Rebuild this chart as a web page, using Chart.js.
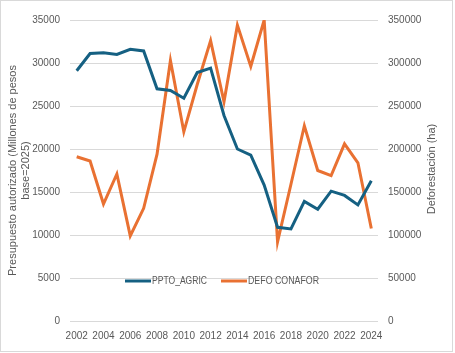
<!DOCTYPE html>
<html>
<head>
<meta charset="utf-8">
<script src="https://cdn.jsdelivr.net/npm/chart.js@4/dist/chart.umd.min.js"></script>
<style>
html,body{margin:0;padding:0;background:#fff;}
canvas{display:block;}
</style>
</head>
<body>
<canvas id="c" width="455" height="353"></canvas>
<script>
const years = ['2002','2003','2004','2005','2006','2007','2008','2009','2010','2011','2012','2013','2014','2015','2016','2017','2018','2019','2020','2021','2022','2023','2024'];
const pptoAgric = [29100,31100,31200,31000,31600,31400,27000,26800,25900,28900,29400,23900,20000,19300,15800,10900,10700,13900,13000,15100,14600,13500,16300];
const defoConafor = [191000,186000,136000,171000,99000,131000,194000,303000,220000,275000,326000,255000,344000,296000,350000,92000,159000,227000,175000,169000,206000,184000,107500];
const leftTicks = [0,5000,10000,15000,20000,25000,30000,35000];
const rightTicks = [0,50000,100000,150000,200000,250000,300000,350000];
const leftTitle = ['Presupuesto autorizado (Millones de pesos', 'base=2025)'];
const rightTitle = 'Deforestación (ha)';

const BLUE = '#156082', ORANGE = '#E97132', GREY = '#595959';
const FAM = "'Liberation Sans', Arial, sans-serif";
const tickFont = {family: FAM, size: 10};
const titleFont = {family: FAM, size: 11};

const frame = {
  id: 'frame',
  beforeDraw(chart) {
    const ctx = chart.ctx;
    ctx.save();
    ctx.fillStyle = '#fff';
    ctx.fillRect(0, 0, chart.width, chart.height);
    ctx.strokeStyle = '#d9d9d9';
    ctx.lineWidth = 1;
    ctx.strokeRect(0.5, 0.5, 452, 351);
    ctx.restore();
  }
};

const extras = {
  id: 'extras',
  afterDatasetsDraw(chart) {
    const ctx = chart.ctx;
    const ds = chart.data.datasets;
    const items = [
      {x: 125, label: ds[0].label, color: ds[0].borderColor, w: 55},
      {x: 221, label: ds[1].label, color: ds[1].borderColor, w: 71}
    ];
    const y = 281;
    ctx.save();
    ctx.font = "10.5px " + FAM;
    ctx.textBaseline = 'middle';
    ctx.textAlign = 'left';
    items.forEach(it => {
      ctx.strokeStyle = it.color;
      ctx.lineWidth = 3;
      ctx.lineCap = 'butt';
      ctx.beginPath();
      ctx.moveTo(it.x, y);
      ctx.lineTo(it.x + 26, y);
      ctx.stroke();
      ctx.fillStyle = GREY;
      ctx.fillText(it.label, it.x + 27, y, it.w);
    });
    // right axis title, reading bottom-to-top
    ctx.font = "11px " + FAM;
    ctx.textAlign = 'center';
    ctx.translate(432, 169);
    ctx.rotate(-Math.PI / 2);
    ctx.fillText(rightTitle, 0, 0);
    ctx.restore();
  }
};

const plain = v => String(v);

new Chart(document.getElementById('c'), {
  type: 'line',
  data: {
    labels: years,
    datasets: [
      {label: 'PPTO_AGRIC', data: pptoAgric, borderColor: BLUE, backgroundColor: BLUE, borderWidth: 3, pointRadius: 0, tension: 0, yAxisID: 'y'},
      {label: 'DEFO CONAFOR', data: defoConafor, borderColor: ORANGE, backgroundColor: ORANGE, borderWidth: 3, pointRadius: 0, tension: 0, yAxisID: 'y1'}
    ]
  },
  options: {
    responsive: false,
    animation: false,
    devicePixelRatio: 1,
    layout: {padding: {top: 20, left: 0, right: 0, bottom: 0}},
    plugins: {legend: {display: false}, tooltip: {enabled: false}},
    scales: {
      x: {
        type: 'category',
        offset: true,
        grid: {display: false, drawTicks: false},
        border: {display: false},
        ticks: {
          color: GREY, font: tickFont, maxRotation: 0, autoSkip: false, padding: 9,
          callback: function(v, i) { return i % 2 === 0 ? years[i] : ''; }
        },
        afterFit(s) { s.height = 32; }
      },
      y: {
        position: 'left',
        min: 0, max: 35000,
        afterBuildTicks(s) { s.ticks = leftTicks.map(v => ({value: v})); },
        grid: {color: '#d9d9d9', lineWidth: 1, drawTicks: false},
        border: {display: false},
        ticks: {color: GREY, font: tickFont, padding: 10, callback: plain},
        title: {display: true, text: leftTitle, color: GREY, font: titleFont, padding: {top: 6, bottom: 0}},
        afterFit(s) { s.width = 70; }
      },
      y1: {
        position: 'right',
        min: 0, max: 350000,
        afterBuildTicks(s) { s.ticks = rightTicks.map(v => ({value: v})); },
        grid: {display: false, drawTicks: false},
        border: {display: false},
        ticks: {color: GREY, font: tickFont, padding: 10, callback: plain},
        afterFit(s) { s.width = 77; }
      }
    }
  },
  plugins: [frame, extras]
});
</script>
</body>
</html>
